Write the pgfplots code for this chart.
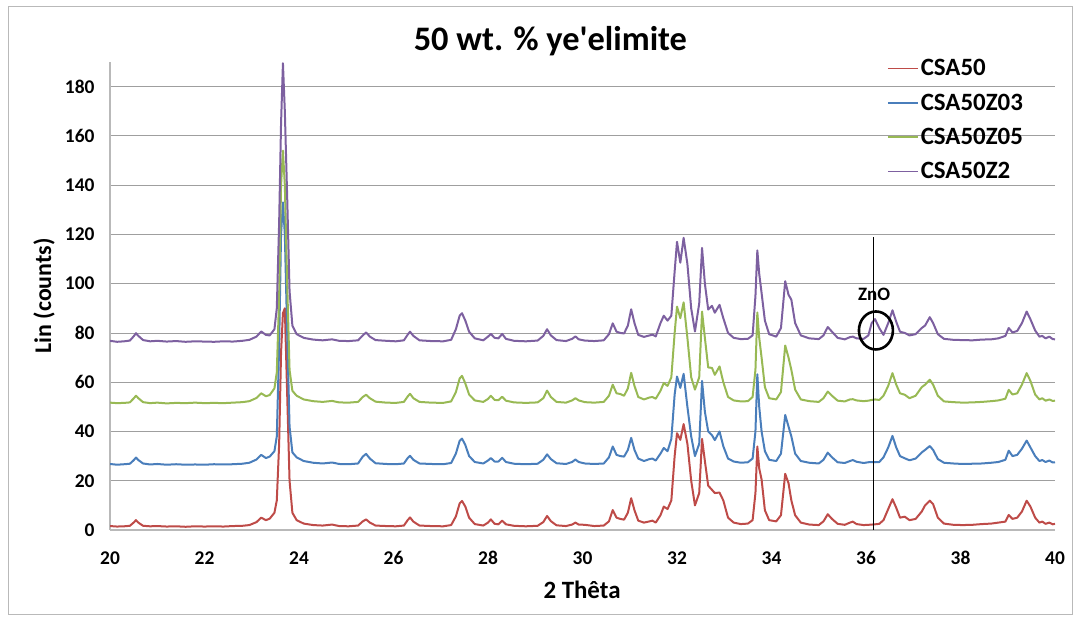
\documentclass[border=0pt]{standalone}
\usepackage{fontspec}
\setmainfont{Carlito}
\usepackage{pgfplots}
\usepackage{pgfplotstable}
\pgfplotsset{compat=1.18}
\definecolor{cRed}{HTML}{BE4B48}
\definecolor{cBlue}{HTML}{4A7EBB}
\definecolor{cGreen}{HTML}{98B954}
\definecolor{cPurple}{HTML}{7D60A0}
\pgfplotstableread{
x R B G P
20.00 1.6 26.8 51.7 76.8
20.15 1.4 26.5 51.5 76.4
20.30 1.5 26.7 51.6 76.6
20.42 1.7 26.9 51.8 76.9
20.50 3.0 28.3 53.4 78.6
20.55 4.0 29.4 54.5 79.9
20.60 3.0 28.4 53.5 78.8
20.70 1.7 27.0 51.9 77.1
20.85 1.5 26.6 51.5 76.6
21.00 1.6 26.8 51.7 76.8
21.20 1.4 26.5 51.4 76.5
21.40 1.5 26.7 51.6 76.7
21.60 1.3 26.5 51.5 76.4
21.80 1.5 26.6 51.7 76.6
22.00 1.4 26.5 51.5 76.5
22.20 1.5 26.7 51.6 76.4
22.40 1.4 26.6 51.5 76.6
22.60 1.6 26.7 51.7 76.5
22.80 1.7 26.9 51.9 76.8
22.95 2.0 27.3 52.3 77.2
23.10 3.2 28.6 53.6 78.5
23.20 5.0 30.5 55.5 80.6
23.30 4.0 29.2 54.3 79.2
23.38 4.6 29.8 54.8 79.0
23.48 7.0 32.0 57.5 81.5
23.53 12 38 64 90
23.58 35 75 95 125
23.62 72 120 140 165
23.66 88 133 154 189.5
23.70 90 120 140 170
23.75 55 80 100 135
23.80 20 42 65 97
23.86 7 31.5 56.5 83
23.95 4.0 29.5 54.5 79.5
24.10 2.6 28.0 53.0 78.0
24.30 2.0 27.3 52.3 77.3
24.50 1.8 27.0 52.0 77.0
24.70 2.2 27.4 52.4 77.4
24.85 1.6 26.8 51.8 76.8
25.05 1.5 26.7 51.7 76.7
25.25 1.8 27.0 52.0 77.0
25.35 3.5 29.8 54.0 79.0
25.42 4.3 30.9 54.9 80.2
25.50 3.0 29.0 53.5 78.5
25.62 1.8 27.1 52.1 77.1
25.85 1.6 26.8 51.7 76.8
26.05 1.5 26.7 51.6 76.6
26.22 1.8 27.0 52.0 77.0
26.30 4.0 29.2 54.2 79.3
26.35 5.1 30.1 55.3 80.5
26.42 3.4 28.5 53.5 78.8
26.55 1.8 27.0 52.0 77.0
26.80 1.6 26.8 51.7 76.7
27.05 1.5 26.7 51.6 76.6
27.22 2.0 27.2 52.2 77.2
27.32 5.5 31.0 56.0 81.5
27.40 10.8 36.2 61.5 87.0
27.45 11.8 37.1 62.6 88.0
27.52 9.5 34.5 59.5 85.0
27.60 5.0 30.0 55.0 80.5
27.72 2.4 27.6 52.6 77.8
27.90 1.8 27.0 52.0 77.0
28.00 3.0 28.2 53.2 78.5
28.06 4.3 29.2 54.5 79.6
28.14 2.5 27.8 52.8 78.0
28.22 2.3 27.8 52.7 77.8
28.30 3.8 29.3 54.1 79.6
28.38 2.3 27.6 52.5 77.6
28.55 1.7 26.9 51.8 76.8
28.80 1.5 26.7 51.6 76.6
29.05 1.7 26.9 51.8 76.9
29.17 3.2 28.5 53.5 78.8
29.25 5.7 30.7 56.6 81.5
29.33 3.6 28.8 54.0 79.0
29.45 1.9 27.1 52.0 77.1
29.65 1.6 26.8 51.7 76.7
29.78 2.2 27.6 52.6 77.6
29.85 3.0 28.6 53.5 78.6
29.92 2.2 27.6 52.6 77.4
30.05 2.1 27.0 51.9 76.9
30.25 1.6 26.8 51.7 76.7
30.45 1.8 27.0 52.0 77.0
30.56 3.5 29.5 54.5 79.5
30.64 8.1 33.9 59.0 83.9
30.72 5.0 30.5 55.5 80.5
30.80 4.5 30.0 55.2 80.0
30.88 4.2 29.8 54.5 79.8
30.96 7.0 32.5 57.5 83.0
31.03 12.9 37.4 63.8 89.6
31.10 8.0 32.5 58.5 84.0
31.18 3.8 29.0 54.0 79.2
31.30 3.0 28.0 53.0 78.4
31.42 3.5 28.8 53.8 79.0
31.48 3.8 29.0 54.0 79.3
31.55 3.0 28.2 53.3 78.6
31.65 6.0 31.0 56.5 84.0
31.72 9.5 33.3 59.7 87.0
31.80 8.5 32.0 58.5 85.0
31.88 12 37 62 87
31.95 30 55 80 105
32.00 39.3 62.3 90.7 117
32.07 36.6 57.7 86.0 108.5
32.14 43.0 63.4 92.4 118.6
32.22 35 50 78 108
32.30 20 38 62 90
32.38 10 30 57 80.6
32.47 15 35 62 92
32.53 37.0 60.5 88.7 114.5
32.59 28 48 78 100
32.66 18 40 66 89.5
32.74 16.3 38.5 65.8 91.0
32.80 15.0 36.5 63.0 88.2
32.90 15.2 40.0 66.4 91.4
32.98 12.0 34.0 60.0 86.0
33.08 5.0 29.0 54.0 80.0
33.20 3.0 27.8 52.6 78.0
33.35 2.4 27.3 52.2 77.5
33.50 2.6 27.5 52.3 77.6
33.60 4.0 29.0 54.0 79.0
33.66 15 40 65 95
33.70 33.9 63.2 88.3 113.5
33.74 25 50 78 104
33.79 20.5 40.0 70.0 96.2
33.86 8.0 32.0 58.0 85.0
33.95 4.0 28.5 53.5 79.5
34.10 3.5 28.0 53.0 78.5
34.20 6.0 31.0 56.0 82.0
34.29 22.8 46.7 74.9 101
34.36 19 42 70 95.5
34.42 12 38 65 93.5
34.50 6.0 31.0 57.0 84.0
34.62 3.0 28.0 53.0 79.0
34.80 2.2 27.3 52.3 77.8
35.00 2.0 27.0 52.0 77.5
35.10 3.5 28.5 53.5 79.0
35.19 6.4 31.4 56.2 82.4
35.28 4.5 29.5 54.5 80.5
35.40 2.5 27.5 52.5 78.0
35.55 2.1 27.2 52.2 77.4
35.66 3.0 28.0 53.0 78.3
35.72 3.4 28.4 53.1 78.5
35.80 2.4 27.7 52.6 77.8
35.95 2.0 27.2 52.3 77.6
36.05 2.1 27.5 52.5 79.0
36.12 2.2 27.6 52.8 84.0
36.19 2.3 27.5 53.0 85.6
36.28 2.5 27.6 52.8 82.0
36.37 4.0 29.5 54.5 79.2
36.47 8.5 33.5 58.5 84.0
36.56 12.5 38.2 63.7 89.2
36.64 9.0 33.5 59.0 84.5
36.72 5.0 30.0 55.5 80.5
36.82 5.4 29.1 54.9 80.0
36.92 4.0 28.3 53.5 79.0
37.05 4.5 29.0 54.5 79.5
37.18 7.5 31.5 58.0 82.0
37.25 10 32.5 59.0 83.0
37.35 11.9 34.1 61.0 86.4
37.42 10.5 32.5 59.0 84.0
37.52 5.0 28.8 54.5 79.5
37.65 2.6 27.3 52.2 77.6
37.85 2.1 27.0 51.9 77.2
38.05 2.0 26.8 51.7 77.1
38.25 2.1 26.9 51.8 77.0
38.45 2.4 27.0 52.0 77.3
38.65 2.6 27.3 52.3 77.4
38.80 3.0 27.6 52.6 77.8
38.95 3.4 28.5 53.3 78.8
39.02 6.1 32.2 56.9 82.0
39.10 4.5 30.0 55.0 80.2
39.20 5.0 30.5 55.5 80.8
39.30 7.5 33.0 59.0 84.0
39.40 11.9 36.3 63.7 88.7
39.48 9.5 33.5 60.5 85.5
39.58 5.0 30.0 55.0 81.0
39.67 3.0 28.0 53.0 78.5
39.73 3.4 28.4 53.5 78.8
39.80 2.5 27.6 52.5 77.8
39.88 3.0 28.2 53.0 78.5
39.95 2.3 27.4 52.4 77.5
40.00 2.5 27.5 52.5 77.4
}\xrd
\begin{document}
\begin{tikzpicture}[x=1bp,y=1bp]
\useasboundingbox (0,0) rectangle (1084,617);
\draw[gray!55, line width=1bp] (8,2) rectangle (1072,610);
\begin{axis}[
  at={(110bp,87bp)}, anchor=south west,
  scale only axis, width=945bp, height=468bp,
  xmin=20, xmax=40, ymin=0, ymax=190,
  xtick={20,22,...,40}, ytick={0,20,...,180},
  ymajorgrids, grid style={gray!75, line width=0.8bp},
  axis x line*=bottom, axis y line*=left,
  axis line style={gray!55, line width=1.2bp, -},
  major tick length=0pt,
  tick label style={font=\fontsize{19.5}{19.5}\selectfont\bfseries},
  /pgf/number format/assume math mode=true,
  xticklabel style={yshift=-18bp},
  yticklabel style={xshift=-12bp},
  title={50 wt. \% ye\textquotesingle elimite},
  title style={at={(axis description cs:0.466,1)}, anchor=center, yshift=15bp, font=\fontsize{34.5}{34.5}\selectfont\bfseries},
  xlabel={2 Thêta},
  xlabel style={at={(axis description cs:0.4995,0)}, anchor=center, yshift=-60bp, font=\fontsize{25}{25}\selectfont\bfseries},
  ylabel={Lin (counts)},
  ylabel style={at={(axis description cs:-0.0698,0.5)}, anchor=center, font=\fontsize{24}{24}\selectfont\bfseries},
  legend cell align=left,
  legend image code/.code={\draw[#1, line width=1.8bp] (0bp,0bp) -- (30bp,0bp);},
  legend style={draw=none, fill=none, at={(axis description cs:0.822,1.0098)}, anchor=north west,
    font=\fontsize{25}{25}\selectfont\bfseries, row sep=12.5bp, inner sep=0pt,
    /tikz/every even column/.append style={column sep=0pt}},
  line join=round,
]
\addplot[cRed, line width=2bp] table[x=x, y=R] {\xrd};
\addlegendentry{CSA50}
\addplot[cBlue, line width=2bp] table[x=x, y=B] {\xrd};
\addlegendentry{CSA50Z03}
\addplot[cGreen, line width=2bp] table[x=x, y=G] {\xrd};
\addlegendentry{CSA50Z05}
\addplot[cPurple, line width=2bp] table[x=x, y=P] {\xrd};
\addlegendentry{CSA50Z2}
\draw[black, line width=1bp] (axis cs:36.15,0) -- (axis cs:36.15,119);
\draw[black, line width=2.6bp] (axis cs:36.21,81) ellipse [x radius=17bp, y radius=19bp];
\node[font=\fontsize{19}{19}\selectfont\bfseries] at (axis cs:36.17,95.5) {ZnO};
\end{axis}
\end{tikzpicture}
\end{document}
